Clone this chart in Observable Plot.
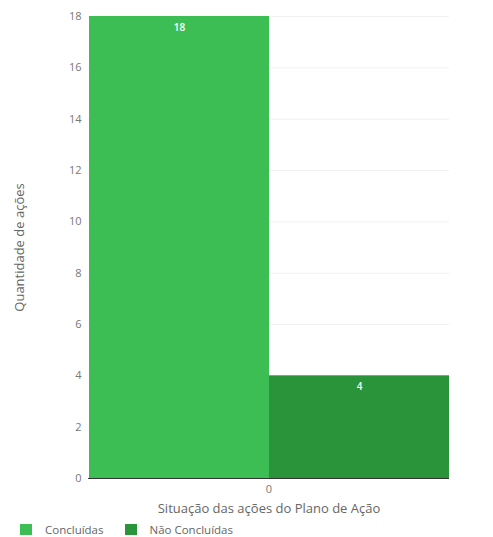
<!DOCTYPE html>
<html>
<head>
<meta charset="utf-8">
<script src="https://cdn.jsdelivr.net/npm/d3@7"></script>
<script src="https://cdn.jsdelivr.net/npm/@observablehq/plot@0.6"></script>
<style>
  body { margin: 0; background: #fff; font-family: "Open Sans", sans-serif; }
  #legend { display: flex; font-size: 11.5px; color: #666; margin-left: 20px; margin-top: 1px; }
  .item { display: flex; align-items: center; margin-right: 21px; }
  .sw { width: 12px; height: 11px; margin-right: 13px; }
</style>
</head>
<body>
<div id="chart"></div>
<div id="legend"></div>
<script>
const groups = ["0"];
const series = ["Concluídas", "Não Concluídas"];
const values = [18, 4];
const colors = ["#3dbe55", "#2a943b"];
const yTicks = [0, 2, 4, 6, 8, 10, 12, 14, 16, 18];

const data = series.map((s, i) => ({group: groups[0], series: s, value: values[i]}));

const chart = Plot.plot({
  width: 493,
  height: 521,
  marginLeft: 44,
  marginRight: 0,
  marginTop: 16,
  marginBottom: 43,
  style: {fontFamily: "Open Sans, sans-serif", fontSize: "11px", color: "#777", background: "#fff"},
  fx: {domain: groups, padding: 0.195, label: "Situação das ações do Plano de Ação", labelAnchor: "center", labelOffset: 34, labelArrow: "none", tickSize: 0, tickPadding: 7, axis: "bottom"},
  x: {domain: series, padding: 0, axis: null},
  y: {domain: [0, 18], ticks: yTicks, grid: true, tickSize: 0, tickPadding: 7, label: "Quantidade de ações", labelAnchor: "center", labelOffset: 74, labelArrow: "none"},
  color: {domain: series, range: colors},
  marks: [
    Plot.barY(data, {fx: "group", x: "series", y: "value", fill: "series"}),
    Plot.text(data, {fx: "group", x: "series", y: "value", text: d => String(d.value), dy: 11, fill: "white", fontWeight: 600, fontSize: 10}),
    Plot.ruleY([0], {stroke: "#333"})
  ]
});
d3.select(chart).selectAll("text").each(function() {
  const t = d3.select(this);
  const s = t.text();
  if (s.includes("Quantidade") || s.includes("Situação")) {
    t.text(s.replace(/\s*[↑→↓←]\s*/g, "").trim());
    t.style("font-size", "13px").attr("fill", "#666");
  }
});
document.getElementById("chart").appendChild(chart);

const legend = document.getElementById("legend");
series.forEach((s, i) => {
  const it = document.createElement("div");
  it.className = "item";
  const sw = document.createElement("div");
  sw.className = "sw";
  sw.style.background = colors[i];
  const t = document.createElement("span");
  t.textContent = s;
  it.appendChild(sw); it.appendChild(t);
  legend.appendChild(it);
});
</script>
</body>
</html>
